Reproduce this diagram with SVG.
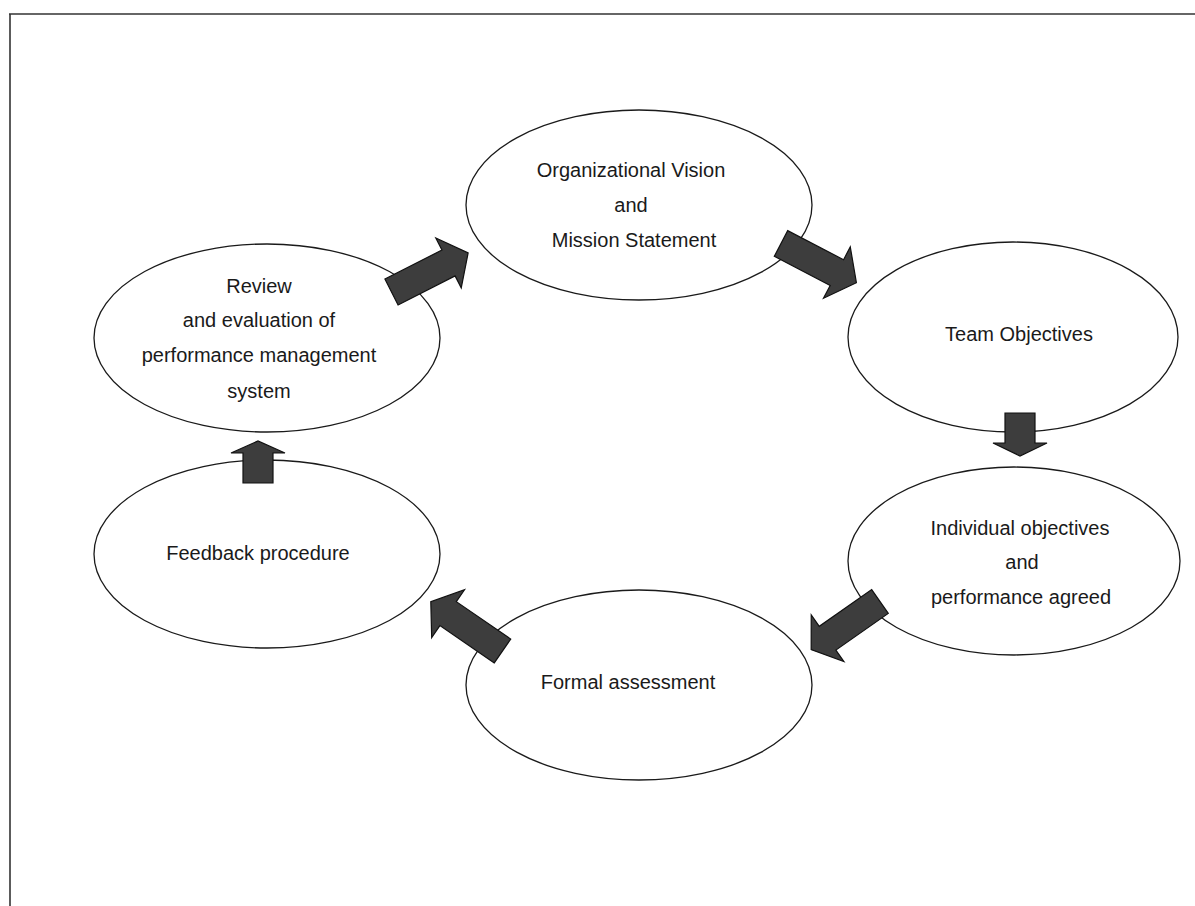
<svg xmlns="http://www.w3.org/2000/svg" width="1195" height="906" viewBox="0 0 1195 906">
<style>
.node ellipse{fill:#fff;stroke:#1a1a1a;stroke-width:1.3}
.node text{font-family:"Liberation Sans",Arial,sans-serif;font-size:20px;fill:#1a1a1a;text-anchor:middle}
.arrow{fill:#3d3d3d;stroke:#111;stroke-width:1.2;stroke-linejoin:miter}
.frame{stroke:#333;stroke-width:1.6;fill:none}
</style>
<rect x="0" y="0" width="1195" height="906" fill="#fff"/>
<g id="frame">
<line class="frame" x1="9" y1="14" x2="1195" y2="14"/>
<line class="frame" x1="10" y1="14" x2="10" y2="906"/>
</g>
<g id="vision" class="node">
<ellipse cx="639" cy="205" rx="173" ry="95"/>
<text x="631" y="177">Organizational Vision</text>
<text x="631" y="212">and</text>
<text x="634" y="247">Mission Statement</text>
</g>
<g id="team" class="node">
<ellipse cx="1013" cy="337" rx="165" ry="95"/>
<text x="1019" y="341">Team Objectives</text>
</g>
<g id="individual" class="node">
<ellipse cx="1014" cy="561" rx="166" ry="94"/>
<text x="1020" y="535">Individual objectives</text>
<text x="1022" y="569">and</text>
<text x="1021" y="604">performance agreed</text>
</g>
<g id="formal" class="node">
<ellipse cx="639" cy="685" rx="173" ry="95"/>
<text x="628" y="689">Formal assessment</text>
</g>
<g id="feedback" class="node">
<ellipse cx="267" cy="554" rx="173" ry="94"/>
<text x="258" y="560">Feedback procedure</text>
</g>
<g id="review" class="node">
<ellipse cx="267" cy="338" rx="173" ry="94"/>
<text x="259" y="293">Review</text>
<text x="259" y="327">and evaluation of</text>
<text x="259" y="362">performance management</text>
<text x="259" y="398">system</text>
</g>
<g id="connectors">
<path class="arrow" transform="translate(391.5,292) rotate(-27)" d="M0,-14.5 L64,-14.5 L64,-28 L86,0 L64,28 L64,14.5 L0,14.5 Z"/>
<path class="arrow" transform="translate(781,243.5) rotate(27.5)" d="M0,-14.5 L63,-14.5 L63,-29 L85,0 L63,29 L63,14.5 L0,14.5 Z"/>
<path class="arrow" transform="translate(1020,413) rotate(90)" d="M0,-15 L30,-15 L30,-27 L43,0 L30,27 L30,15 L0,15 Z"/>
<path class="arrow" transform="translate(880,601.5) rotate(145)" d="M0,-14.5 L64,-14.5 L64,-28.5 L84,0 L64,28.5 L64,14.5 L0,14.5 Z"/>
<path class="arrow" transform="translate(502.5,651) rotate(214.5)" d="M0,-14.5 L66,-14.5 L66,-29 L87,0 L66,29 L66,14.5 L0,14.5 Z"/>
<path class="arrow" transform="translate(258,483) rotate(-90)" d="M0,-15 L30,-15 L30,-27 L42,0 L30,27 L30,15 L0,15 Z"/>
</g>
</svg>
